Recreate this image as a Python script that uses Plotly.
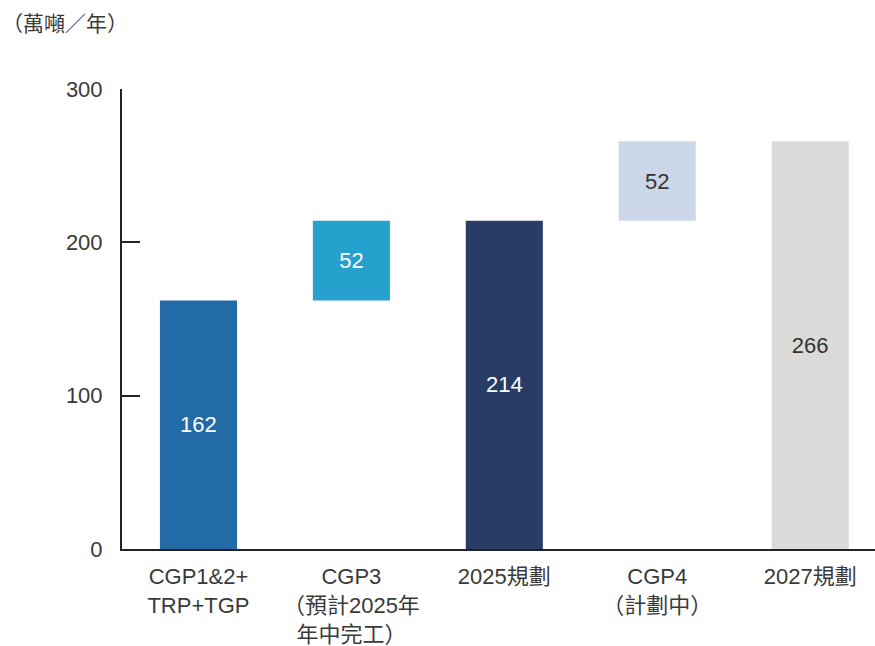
import plotly.graph_objects as go

categories = ["CGP1&2+<br>TRP+TGP", "CGP3<br>（預計2025年<br>年中完工）", "2025規劃", "CGP4<br>（計劃中）", "2027規劃"]
values = [162, 52, 214, 52, 266]
measures = ["total", "relative", "total", "relative", "total"]
bar_colors = ["#236BA6", "#26A0CC", "#283C66", "#CBD6E8", "#DBDAD8"]
text_colors = ["#FFFFFF", "#FFFFFF", "#FFFFFF", "#333333", "#333333"]
y_ticks = [0, 100, 200, 300]
unit_label = "（萬噸／年）"

# compute floating bases from the running totals
bases = []
running = 0
for v, m in zip(values, measures):
    if m == "total":
        bases.append(0)
        running = v
    else:
        bases.append(running)
        running += v

FONT = "Liberation Sans, Arial, Noto Sans CJK TC, sans-serif"
CJK_FONT = "Noto Sans CJK TC, sans-serif"
x_pos = list(range(len(categories)))

fig = go.Figure()
fig.add_trace(go.Bar(
    x=x_pos,
    y=values,
    base=bases,
    width=0.504,
    marker=dict(color=bar_colors, line=dict(width=0)),
    text=[str(v) for v in values],
    textposition="inside",
    insidetextanchor="middle",
    textangle=0,
    constraintext="none",
    textfont=dict(size=22, color=text_colors, family=FONT),
    hoverinfo="skip",
))

fig.update_layout(
    width=875, height=646,
    margin=dict(l=122, r=0, t=89, b=97, autoexpand=False),
    paper_bgcolor="white", plot_bgcolor="white",
    showlegend=False,
    font=dict(family=FONT, color="#3A3A3A", size=22),
    xaxis=dict(
        range=[-0.5, 4.424],
        automargin=False,
        tickmode="array", tickvals=x_pos, ticktext=categories,
        showline=True, linecolor="#222222", linewidth=2,
        ticks="", showgrid=False, zeroline=False,
        tickfont=dict(size=22, color="#3A3A3A", family=FONT),
        ticklabelstandoff=7,
        fixedrange=True,
    ),
    yaxis=dict(
        range=[0, 300],
        automargin=False,
        tickmode="array", tickvals=y_ticks,
        showline=True, linecolor="#222222", linewidth=2,
        ticks="inside", ticklen=18, tickwidth=2, tickcolor="#222222",
        showgrid=False, zeroline=False,
        tickfont=dict(size=22, color="#3A3A3A", family=FONT),
        ticklabelstandoff=13,
        fixedrange=True,
    ),
    annotations=[dict(
        text=unit_label, xref="paper", yref="paper",
        x=-122/753, y=1, xanchor="left", yanchor="middle",
        xshift=0, yshift=67, showarrow=False,
        font=dict(size=21, color="#3A3A3A", family=CJK_FONT),
    )],
)

fig.write_html(
    "out.html",
    config={"displayModeBar": False},
    post_script=(
        "document.head.insertAdjacentHTML('beforeend',"
        "'<style>svg text, svg tspan{text-spacing-trim:space-all;"
        "font-feature-settings:\"fwid\" 1;}</style>');"
        "document.body.style.margin='0';document.body.style.overflow='hidden';"
    ),
)
